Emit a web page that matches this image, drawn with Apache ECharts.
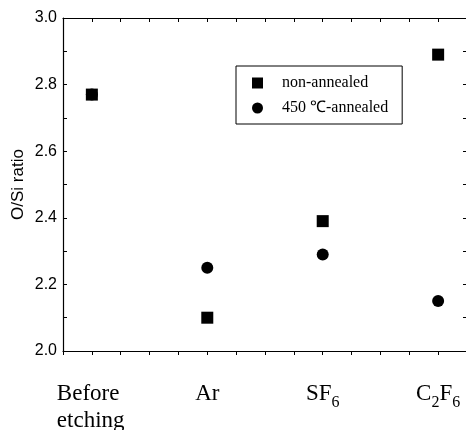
<!DOCTYPE html>
<html><head><meta charset="utf-8">
<script src="https://cdn.jsdelivr.net/npm/echarts@6/dist/echarts.min.js"></script>
<style>html,body{margin:0;padding:0;background:#fff}#c{width:466px;height:430px}</style>
</head><body><div id="c"></div>
<script>
const categories = ['{a|Before}\n{a|etching}', '{m|Ar}', '{m|SF}{s|6}', '{m|C}{s|2}{m|F}{s|6}'];
const nonAnnealed = [2.77, 2.10, 2.39, 2.89];
const annealed450 = [2.77, 2.25, 2.29, 2.15];
const yTicks = [2.0, 2.2, 2.4, 2.6, 2.8, 3.0];
const seriesNames = ['non-annealed', '450 \u2103-annealed'];

const chart = echarts.init(document.getElementById('c'), null, {renderer: 'canvas'});
const serif = '"Liberation Serif", "Times New Roman", serif';
const sans = '"Liberation Sans", Arial, sans-serif';
const tickIn = {show: true, inside: true, length: 4, lineStyle: {color: '#000', width: 1}};
const lineSt = {show: true, onZero: false, lineStyle: {color: '#000', width: 1.2}};

chart.setOption({
  animation: false,
  backgroundColor: '#fff',
  grid: {left: 63, top: 18, width: 404, height: 333, containLabel: false, outerBoundsMode: 'none'},
  legend: {
    orient: 'vertical', left: 236, top: 66,
    padding: [8, 14, 7, 16], itemGap: 7,
    itemWidth: 11, itemHeight: 11,
    borderColor: '#000', borderWidth: 1,
    itemStyle: {opacity: 1, color: '#000'},
    textStyle: {fontFamily: serif, fontSize: 16, color: '#000', lineHeight: 18, padding: [0, 0, 0, 14]},
    data: seriesNames
  },
  xAxis: [{
    type: 'value', min: -0.25, max: 3.25, interval: 0.25,
    axisLine: lineSt,
    axisTick: {show: true, inside: false, length: 4, lineStyle: {color: '#000', width: 1}},
    splitLine: {show: false},
    axisLabel: {
      margin: 29, color: '#000', fontFamily: serif, fontSize: 23,
      showMinLabel: true, showMaxLabel: true,
      formatter: v => {
        const r = Math.round(v);
        return Math.abs(v - r) < 1e-6 && r >= 0 && r < categories.length ? categories[r] : '';
      },
      rich: {
        a: {fontFamily: serif, fontSize: 23, lineHeight: 27, width: 70, align: 'left', color: '#000'},
        m: {fontFamily: serif, fontSize: 23, lineHeight: 27, padding: [2, 0, 0, 0], verticalAlign: 'top', color: '#000'},
        s: {fontFamily: serif, fontSize: 16, lineHeight: 16, padding: [15, 0, 0, 0], verticalAlign: 'top', color: '#000'}
      }
    }
  }, {
    type: 'value', position: 'top', min: -0.25, max: 3.25, interval: 0.25,
    axisLine: lineSt, axisTick: tickIn, axisLabel: {show: false}, splitLine: {show: false}
  }],
  yAxis: [{
    type: 'value', min: 2.0, max: 3.0, interval: 0.1,
    name: 'O/Si ratio', nameLocation: 'middle', nameGap: 36, nameMoveOverlap: false,
    nameTextStyle: {fontFamily: sans, fontSize: 17, color: '#000'},
    axisLine: lineSt, axisTick: tickIn, splitLine: {show: false},
    axisLabel: {
      margin: 6, color: '#000', fontFamily: sans, fontSize: 16,
      formatter: v => {
        const t = yTicks.find(x => Math.abs(x - v) < 1e-6);
        return t !== undefined ? t.toFixed(1) : '';
      }
    }
  }, {
    type: 'value', position: 'right', min: 2.0, max: 3.0, interval: 0.1,
    axisLine: lineSt, axisTick: tickIn, axisLabel: {show: false}, splitLine: {show: false}
  }],
  series: [{
    name: seriesNames[0], type: 'scatter', symbol: 'rect', symbolSize: 12,
    itemStyle: {color: '#000', opacity: 1},
    data: nonAnnealed.map((v, i) => [i, v])
  }, {
    name: seriesNames[1], type: 'scatter', symbol: 'circle', symbolSize: 12,
    itemStyle: {color: '#000', opacity: 1},
    data: annealed450.map((v, i) => [i, v])
  }]
});
</script></body></html>
